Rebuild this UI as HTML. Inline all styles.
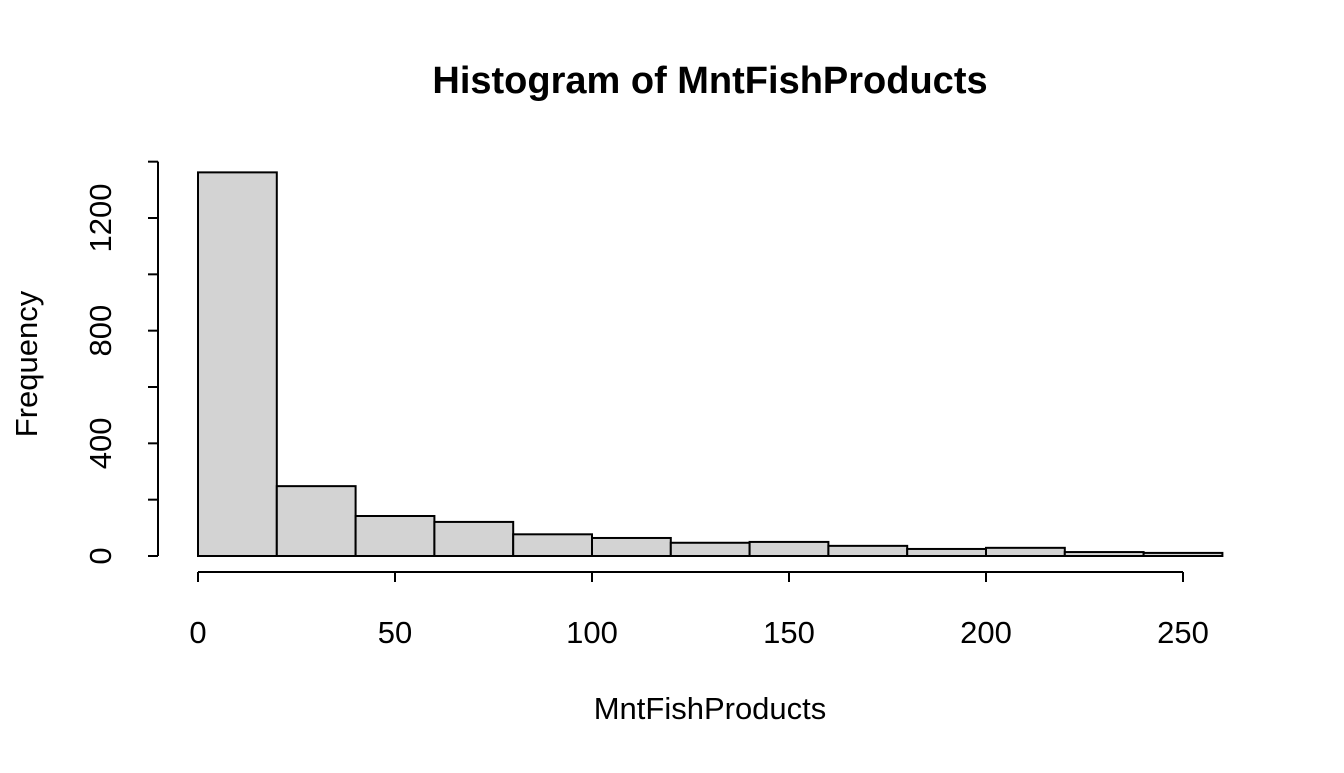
<!DOCTYPE html>
<html><head><meta charset="utf-8"><style>body{margin:0;background:#fff}svg text{font-family:"Liberation Sans",Arial,sans-serif}</style></head>
<body>
<svg id="c" width="1344" height="768">
<text x="710" y="93" text-anchor="middle" font-size="38" font-weight="bold">Histogram of MntFishProducts</text>
<text x="710" y="719" text-anchor="middle" font-size="31">MntFishProducts</text>
<text transform="translate(37,364) rotate(-90)" text-anchor="middle" font-size="31">Frequency</text>
<g id="bars"></g>
<g id="xa"></g>
<g id="ya"></g>
</svg>
<script>
const binStarts=[0,20,40,60,80,100,120,140,160,180,200,220,240];
const binWidth=20;
const counts=[1362,248,142,121,77,64,47,50,36,25,29,14,11];
const xTicks=[0,50,100,150,200,250];
const yTicks=[0,400,800,1200];
const yTicksMinor=[200,600,1000,1400];
const ns="http://www.w3.org/2000/svg";
const X=v=>198+v*(1183-198)/250;
const Y=v=>556-v*(556-218)/1200;
function mk(t,a,p){const e=document.createElementNS(ns,t);for(const k in a)e.setAttribute(k,a[k]);p.appendChild(e);return e;}
const bars=document.getElementById('bars');
binStarts.forEach((s,i)=>{const r=mk('rect',{x:X(s),y:Y(counts[i]),width:X(s+binWidth)-X(s),height:Y(0)-Y(counts[i]),fill:'#d3d3d3',stroke:'#000','stroke-width':2},bars);

});
const xa=document.getElementById('xa');
mk('line',{x1:X(0),x2:X(250),y1:572,y2:572,stroke:'#000','stroke-width':2},xa);
xTicks.forEach(v=>{mk('line',{x1:X(v),x2:X(v),y1:572,y2:582,stroke:'#000','stroke-width':2},xa);
const t=mk('text',{x:X(v),y:643,'text-anchor':'middle','font-size':31},xa);t.textContent=v;

});
const ya=document.getElementById('ya');
mk('line',{x1:158,x2:158,y1:Y(0),y2:Y(1400),stroke:'#000','stroke-width':2},ya);
yTicks.concat(yTicksMinor).forEach(v=>mk('line',{x1:148,x2:158,y1:Y(v),y2:Y(v),stroke:'#000','stroke-width':2},ya));
yTicks.forEach(v=>{const t=mk('text',{transform:`translate(111,${Y(v)}) rotate(-90)`,'text-anchor':'middle','font-size':31},ya);t.textContent=v;

});
</script>
</body></html>
